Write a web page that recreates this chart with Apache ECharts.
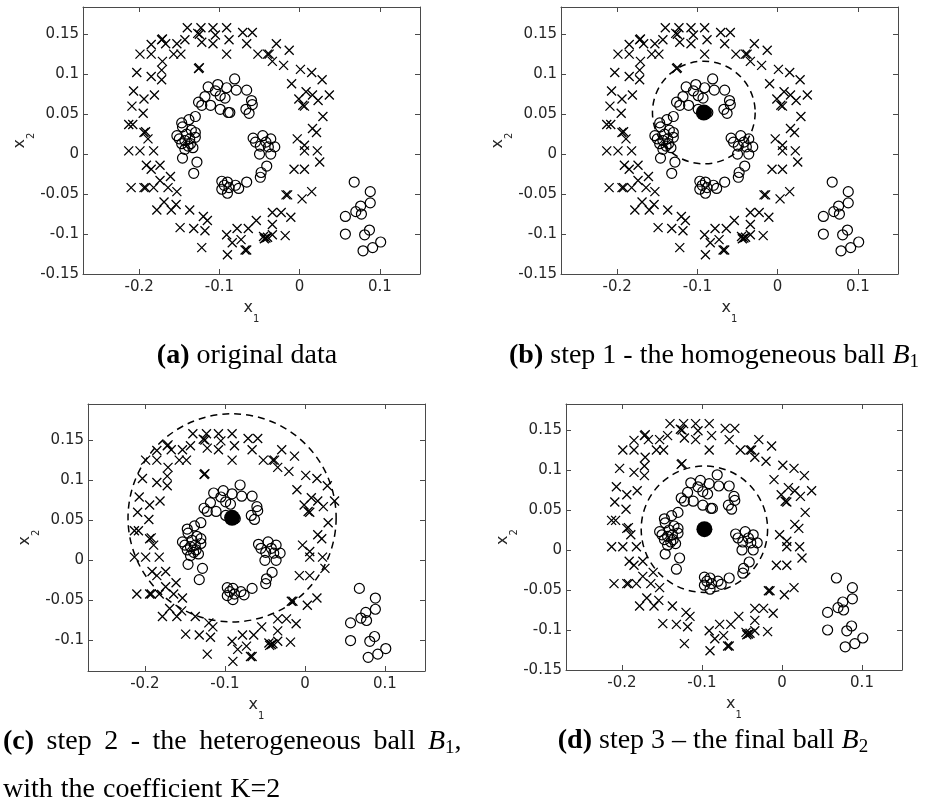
<!DOCTYPE html>
<html>
<head>
<meta charset="utf-8">
<script src="https://cdn.jsdelivr.net/npm/echarts@6/dist/echarts.min.js"></script>
<style>
html, body { margin: 0; padding: 0; background: #fff; }
#chart { width: 930px; height: 809px; }
</style>
</head>
<body>
<div id="chart"></div>
<script>
/* data: x = class "x", o = class "o" */
var crossPts = [
    [-0.140,0.158],[-0.123,0.158],[-0.108,0.158],[-0.091,0.158],[-0.071,0.152],[-0.059,0.152],
    [-0.125,0.150],[-0.127,0.151],[-0.105,0.149],[-0.088,0.143],[-0.143,0.143],[-0.153,0.138],
    [-0.172,0.143],[-0.171,0.144],[-0.122,0.140],[-0.108,0.138],[-0.066,0.138],[-0.029,0.138],
    [-0.167,0.138],[-0.157,0.125],[-0.148,0.125],[-0.185,0.137],[-0.199,0.125],[-0.185,0.125],
    [-0.091,0.125],[-0.052,0.125],[-0.040,0.125],[-0.038,0.125],[-0.034,0.116],[-0.013,0.130],
    [-0.020,0.111],[-0.171,0.116],[-0.126,0.107],[-0.125,0.108],[-0.203,0.102],[-0.172,0.105],
    [-0.185,0.097],[-0.172,0.093],[0.001,0.106],[0.015,0.102],[0.028,0.093],[-0.010,0.088],
    [-0.207,0.079],[-0.194,0.069],[-0.181,0.074],[-0.209,0.060],[-0.195,0.051],[0.008,0.078],
    [0.016,0.074],[-0.001,0.069],[0.023,0.067],[0.037,0.074],[0.006,0.060],[0.004,0.061],
    [0.029,0.047],[0.016,0.032],[0.021,0.027],[-0.003,0.019],[0.006,0.011],[0.006,0.004],
    [0.022,0.004],[0.025,-0.010],[-0.007,-0.019],[0.006,-0.019],[0.015,-0.047],[0.003,-0.056],
    [-0.017,-0.051],[-0.015,-0.051],[-0.011,-0.079],[-0.023,-0.073],[-0.034,-0.073],[-0.034,-0.088],
    [-0.054,-0.083],[-0.064,-0.093],[-0.078,-0.093],[-0.091,-0.101],[-0.073,-0.107],[-0.084,-0.111],
    [-0.090,-0.126],[-0.068,-0.120],[-0.066,-0.120],[-0.042,-0.105],[-0.044,-0.106],[-0.040,-0.104],
    [-0.045,-0.103],[-0.034,-0.101],[-0.018,-0.102],[-0.122,-0.117],[-0.118,-0.096],[-0.132,-0.093],
    [-0.120,-0.078],[-0.115,-0.083],[-0.149,-0.092],[-0.137,-0.070],[-0.154,-0.063],[-0.160,-0.070],
    [-0.169,-0.060],[-0.178,-0.070],[-0.153,-0.047],[-0.164,-0.042],[-0.161,-0.028],[-0.174,-0.033],
    [-0.182,-0.042],[-0.194,-0.042],[-0.192,-0.042],[-0.210,-0.042],[-0.174,-0.014],[-0.185,-0.019],
    [-0.191,-0.014],[-0.182,0.004],[-0.199,0.004],[-0.213,0.004],[-0.189,0.019],[-0.194,0.027],
    [-0.192,0.028],[-0.213,0.037],[-0.208,0.037]
];
var circlePts = [
    [-0.102,0.087],[-0.091,0.083],[-0.081,0.094],[-0.079,0.080],[-0.066,0.080],[-0.114,0.084],
    [-0.105,0.079],[-0.099,0.073],[-0.093,0.070],[-0.118,0.072],[-0.126,0.065],[-0.122,0.061],
    [-0.111,0.061],[-0.099,0.056],[-0.089,0.052],[-0.087,0.052],[-0.060,0.067],[-0.059,0.062],
    [-0.067,0.056],[-0.063,0.051],
    [-0.130,0.047],[-0.138,0.043],[-0.147,0.039],[-0.146,0.034],[-0.135,0.030],[-0.130,0.027],
    [-0.141,0.025],[-0.153,0.023],[-0.150,0.019],[-0.143,0.017],[-0.137,0.019],[-0.130,0.021],
    [-0.147,0.013],[-0.139,0.010],[-0.133,0.008],[-0.143,0.006],[-0.136,0.013],[-0.146,-0.005],
    [-0.128,-0.010],[-0.132,-0.024],
    [-0.058,0.020],[-0.046,0.023],[-0.055,0.015],[-0.049,0.010],[-0.042,0.015],[-0.036,0.019],
    [-0.039,0.009],[-0.031,0.009],[-0.050,0.000],[-0.036,0.000],[-0.041,-0.015],[-0.048,-0.023],
    [-0.049,-0.029],
    [-0.097,-0.034],[-0.090,-0.035],[-0.094,-0.039],[-0.097,-0.044],[-0.088,-0.042],[-0.090,-0.049],
    [-0.080,-0.039],[-0.076,-0.043],[-0.066,-0.035],
    [0.068,-0.035],[0.057,-0.078],[0.070,-0.072],[0.076,-0.065],[0.077,-0.075],[0.088,-0.047],
    [0.088,-0.061],[0.057,-0.100],[0.081,-0.101],[0.087,-0.095],[0.079,-0.121],[0.091,-0.117],
    [0.101,-0.110]
];
// balls of panels b, c, d
var ballCenters = [[-0.092, 0.052], [-0.091, 0.053], [-0.097, 0.026]];
var ballRadii = [0.064, 0.130, 0.079];

var xTicks = [-0.2, -0.1, 0, 0.1];
var yTicks = [-0.15, -0.1, -0.05, 0, 0.05, 0.1, 0.15];
var yTicksC = [-0.1, -0.05, 0, 0.05, 0.1, 0.15];

var captions = [
    '{b|(a)} original data',
    '{b|(b)} step 1 - the homogeneous ball {i|B}{s|1}',
    '{b|(c)} step 2 - the heterogeneous ball {i|B}{s|1},',
    'with the coefficient K=2',
    '{b|(d)} step 3 \u2013 the final ball {i|B}{s|2}'
];

/* layout */
var panels = [
    { left: 83,  top: 7,   w: 337, h: 267, xMin: -0.27,  xMax: 0.15, yMin: -0.15,  yMax: 0.184,  yT: yTicks,  ball: -1 },
    { left: 561, top: 7,   w: 337, h: 267, xMin: -0.27,  xMax: 0.15, yMin: -0.15,  yMax: 0.184,  yT: yTicks,  ball: 0 },
    { left: 88,  top: 404, w: 337, h: 267, xMin: -0.271, xMax: 0.15, yMin: -0.138, yMax: 0.195,  yT: yTicksC, ball: 1 },
    { left: 566, top: 404, w: 336, h: 266, xMin: -0.27,  xMax: 0.15, yMin: -0.15,  yMax: 0.1825, yT: yTicks,  ball: 2 }
];
var capPos = [
    { x: 247, y: 372, align: 'center', space: 0 },
    { x: 714, y: 372, align: 'center', space: 0 },
    { x: 3,   y: 758, align: 'left', space: 12.5 },   // justified line
    { x: 3,   y: 806, align: 'left', space: 8 },
    { x: 713, y: 757, align: 'center', space: 0 }
];

var lineCol = '#4a4a4a', txtCol = '#262626';
var sans = 'DejaVu Sans', serif = 'Liberation Serif';
var crossPath = 'path://M0,0L10,10M10,0L0,10';

var nameRich = {
    v: { fontFamily: sans, fontSize: 16, color: txtCol, lineHeight: 24, verticalAlign: 'top' },
    s: { fontFamily: sans, fontSize: 10, color: txtCol, lineHeight: 12, verticalAlign: 'bottom' }
};

function makeAxis(dim, p, i, pos) {
    var main = (pos === 'bottom' || pos === 'left');
    var ticks = dim === 'x' ? xTicks : p.yT;
    return {
        type: 'value', gridIndex: i, position: pos,
        min: dim === 'x' ? p.xMin : p.yMin,
        max: dim === 'x' ? p.xMax : p.yMax,
        axisLine: { show: true, onZero: false, lineStyle: { color: lineCol, width: 1 } },
        axisTick: { show: true, inside: true, length: 5, customValues: ticks, lineStyle: { color: lineCol } },
        axisLabel: { show: main, customValues: ticks, margin: dim === 'x' ? 6 : 4,
                     fontFamily: sans, fontSize: 15, color: txtCol },
        splitLine: { show: false },
        name: main ? (dim === 'x' ? '{v|x}{s|1}' : '{v|x}{s|2}') : '',
        nameLocation: 'middle',
        nameGap: dim === 'x' ? 26 : 46,
        nameTextStyle: { rich: nameRich }
    };
}

var grids = [], xAxes = [], yAxes = [], series = [];
panels.forEach(function (p, i) {
    grids.push({ left: p.left, top: p.top, width: p.w, height: p.h, containLabel: false });
    xAxes.push(makeAxis('x', p, i, 'bottom'), makeAxis('x', p, i, 'top'));
    yAxes.push(makeAxis('y', p, i, 'left'), makeAxis('y', p, i, 'right'));
    var ax = { xAxisIndex: 2 * i, yAxisIndex: 2 * i };
    series.push(Object.assign({
        type: 'scatter', data: crossPts, symbol: crossPath, symbolSize: 9, silent: true,
        itemStyle: { color: 'transparent', borderColor: '#000', borderWidth: 1.3, opacity: 1 }
    }, ax));
    series.push(Object.assign({
        type: 'scatter', data: circlePts, symbol: 'circle', symbolSize: 10, silent: true,
        itemStyle: { color: 'transparent', borderColor: '#000', borderWidth: 1.2, opacity: 1 }
    }, ax));
    if (p.ball >= 0) {
        var c = ballCenters[p.ball];
        series.push(Object.assign({
            type: 'custom', silent: true, z: 5,
            data: [[c[0], c[1], ballRadii[p.ball]]],
            renderItem: function (params, api) {
                var pt = api.coord([api.value(0), api.value(1)]);
                var r = api.size([api.value(2), 0])[0];
                return { type: 'circle', shape: { cx: pt[0], cy: pt[1], r: r },
                         style: { fill: null, stroke: '#000', lineWidth: 1.5, lineDash: [7, 5] } };
            }
        }, ax));
        series.push(Object.assign({
            type: 'scatter', data: [c], symbol: 'circle', symbolSize: 16, silent: true, z: 6,
            itemStyle: { color: '#000', opacity: 1 }
        }, ax));
    }
});

var capRich = {
    b: { fontFamily: serif, fontWeight: 'bold', fontSize: 28, lineHeight: 32, fill: '#000' },
    i: { fontFamily: serif, fontStyle: 'italic', fontSize: 28, lineHeight: 32, fill: '#000' },
    s: { fontFamily: serif, fontSize: 19, lineHeight: 20, verticalAlign: 'bottom', fill: '#000' }
};
var graphic = captions.map(function (t, k) {
    var rich = Object.assign({}, capRich);
    var text = t;
    if (capPos[k].space) {
        // widen the word gaps (the caption line is justified in the source)
        rich.w = { fontFamily: serif, fontSize: 28, lineHeight: 32, width: capPos[k].space };
        text = t.replace(/ /g, '{w| }');
    }
    return {
        type: 'text', x: capPos[k].x, y: capPos[k].y, silent: true,
        style: { text: text, rich: rich, fontFamily: serif, fontSize: 28, lineHeight: 32, fill: '#000',
                 align: capPos[k].align, verticalAlign: 'bottom' }
    };
});

var chart = echarts.init(document.getElementById('chart'), null, { renderer: 'canvas' });
chart.setOption({
    animation: false,
    backgroundColor: '#fff',
    grid: grids,
    xAxis: xAxes,
    yAxis: yAxes,
    series: series,
    graphic: graphic
});
</script>
</body>
</html>
